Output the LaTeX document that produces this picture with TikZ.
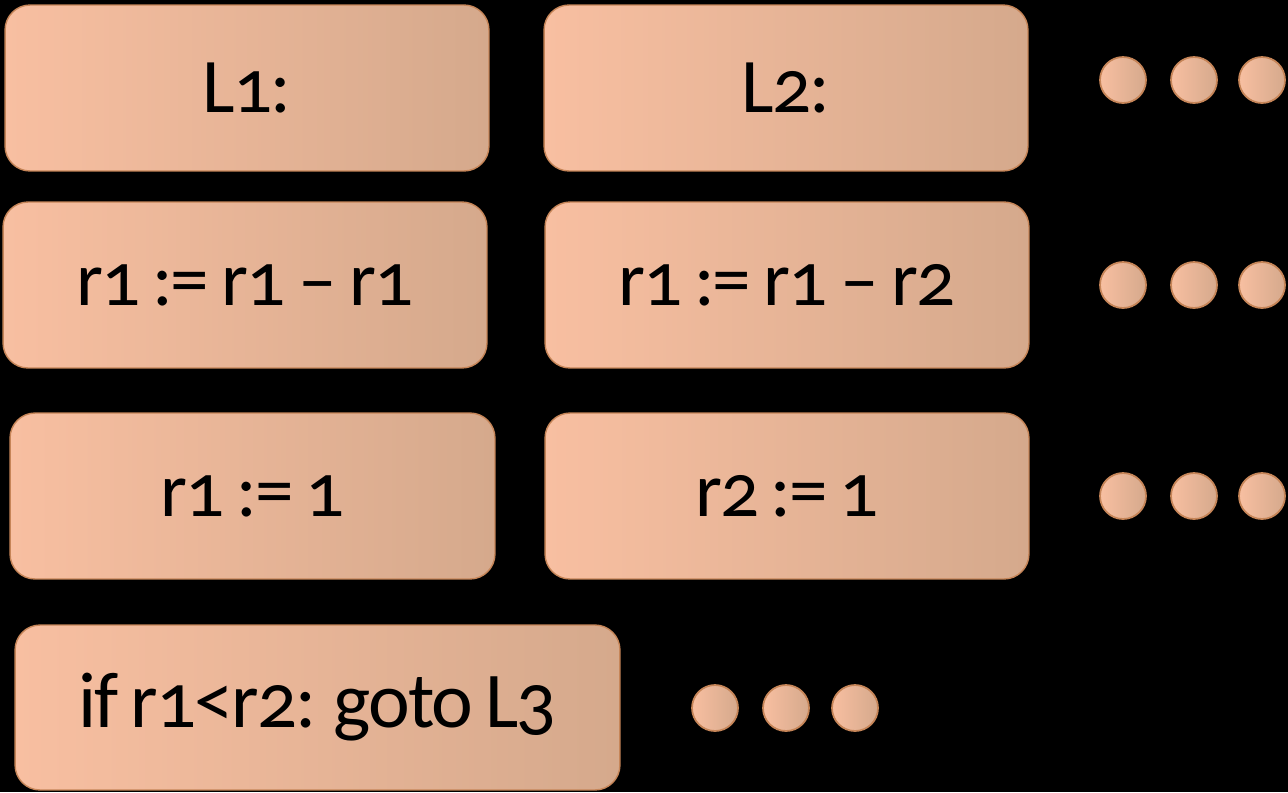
\documentclass[tikz,border=0pt]{standalone}
\usepackage{fontspec}
\setmainfont{Carlito}[Numbers=OldStyle, LetterSpace=-2.5, WordSpace=0.75]
\definecolor{peachL}{HTML}{F8BFA1}
\definecolor{peachR}{HTML}{D5A98C}
\definecolor{peachEdge}{HTML}{C68558}
\tikzset{
  instr/.style={rounded corners=0.5cm, draw=peachEdge, line width=0.8pt,
    left color=peachL, right color=peachR,
    minimum width=9.68cm, minimum height=3.32cm, inner sep=0pt,
    font=\fontsize{44}{50}\selectfont, text=black},
  dot/.style={circle, draw=peachEdge, line width=1pt,
    left color=peachL, right color=peachR,
    minimum size=0.92cm, inner sep=0pt}
}
\begin{document}
\begin{tikzpicture}[x=0.02cm, y=-0.02cm]
  \fill[black] (0,0) rectangle (1288,792);
  \useasboundingbox (0,0) rectangle (1288,792);

  % instruction boxes
  \node[instr] (l1) at (247,88) {L1:};
  \node[instr] (l2) at (786,88) {L2:};
  \node[instr] (s1) at (245,285) {r1 := r1\,--\,r1};
  \node[instr] (s2) at (787,285) {r1 := r1\,--\,r2};
  \node[instr, minimum width=9.7cm] (a1) at (252.5,496) {r1 := 1};
  \node[instr] (a2) at (787,496) {r2 := 1};
  \node[instr, minimum width=12.1cm, minimum height=3.3cm, font=\fontsize{45}{50}\selectfont] (br) at (317.5,707.5) {if r1<r2: goto L3};

  % continuation dots
  \foreach \r/\y in {1/80, 2/285, 3/496}{
    \node[dot] (d\r a) at (1123,\y) {};
    \node[dot] (d\r b) at (1194,\y) {};
    \node[dot] (d\r c) at (1262,\y) {};
  }
  \node[dot] (d4a) at (715,708) {};
  \node[dot] (d4b) at (786,708) {};
  \node[dot] (d4c) at (855,708) {};
\end{tikzpicture}
\end{document}
